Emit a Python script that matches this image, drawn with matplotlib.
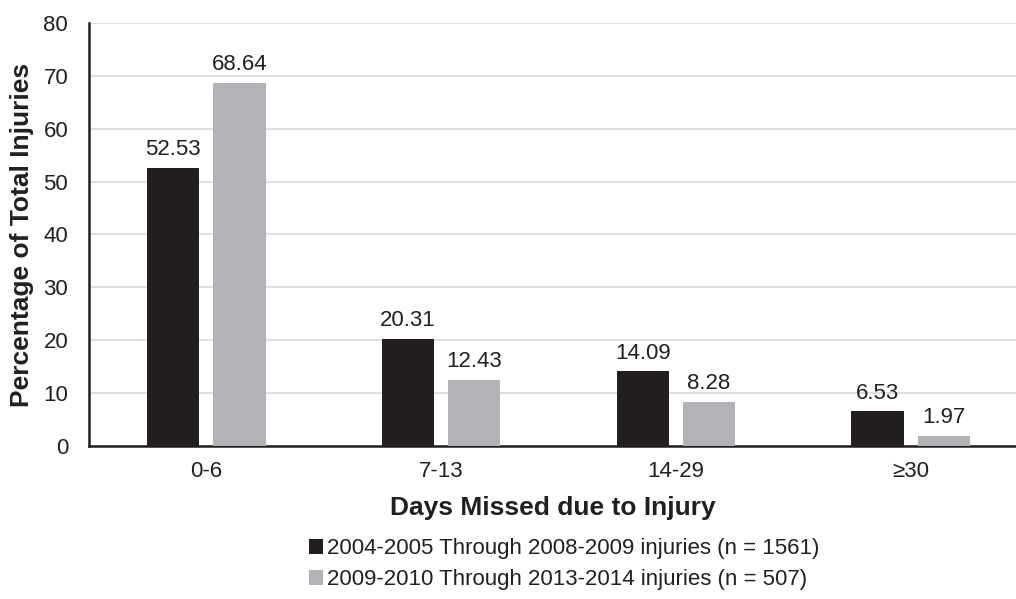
import numpy as np
import matplotlib.pyplot as plt

plt.rcParams['font.family'] = ['Liberation Sans', 'DejaVu Sans']

# data
categories = ['0-6', '7-13', '14-29', '≥30']
early = [52.53, 20.31, 14.09, 6.53]
late = [68.64, 12.43, 8.28, 1.97]
early_label = '2004-2005 Through 2008-2009 injuries (n = 1561)'
late_label = '2009-2010 Through 2013-2014 injuries (n = 507)'

dark = '#231f20'
grey = '#b1b3b6'

fig = plt.figure(figsize=(10.16, 5.99), dpi=100)
ax = fig.add_axes([89/1016, 1-446/599, (1028-89)/1016, (446-23)/599])

x = np.arange(len(categories))
w = 0.222
off = 0.141
b1 = ax.bar(x - off, early, w, color=dark, label=early_label, zorder=3)
b2 = ax.bar(x + off, late, w, color=grey, label=late_label, zorder=3)

for bars, vals in ((b1, early), (b2, late)):
    for r, v in zip(bars, vals):
        ax.text(r.get_x() + r.get_width()/2, v + 1.5, '%.2f' % v,
                ha='center', va='bottom', fontsize=16, color=dark)

ax.set_xlim(-0.5, 3.5)
ax.set_ylim(0, 80)
ax.set_yticks(range(0, 81, 10))
ax.set_xticks(x)
ax.set_xticklabels(categories)
ax.tick_params(axis='both', length=0, labelsize=16, colors=dark)
ax.tick_params(axis='x', pad=11)
ax.tick_params(axis='y', pad=15)
ax.grid(axis='y', color='#d9d9d9', linewidth=1.2, zorder=0)
for s in ['top', 'right']:
    ax.spines[s].set_visible(False)
for s in ['left', 'bottom']:
    ax.spines[s].set_linewidth(1.8)
    ax.spines[s].set_color(dark)

fig.text(22/1016, 1-235/599, 'Percentage of Total Injuries', fontsize=19,
         fontweight='bold', color=dark, rotation=90, ha='center', va='center')
fig.text(553/1016, 1-508/599, 'Days Missed due to Injury', fontsize=19,
         fontweight='bold', color=dark, ha='center', va='center')

fig.legend(handles=[b1, b2], loc='center', bbox_to_anchor=(564/1016, 1-564/599),
           ncol=1, frameon=False, fontsize=16, handlelength=0.65, handleheight=0.65,
           handletextpad=0.15, labelspacing=0.45, labelcolor=dark)

fig.savefig('out.png', dpi=100)
